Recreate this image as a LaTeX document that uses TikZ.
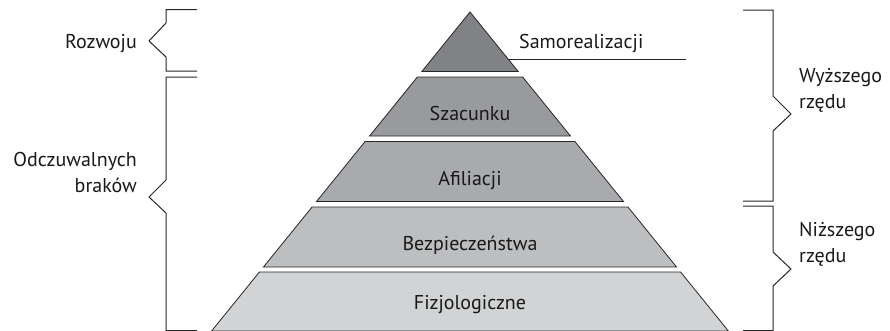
\documentclass[tikz,border=0pt]{standalone}
\usepackage{fontspec}
\setmainfont{PT Sans}
\begin{document}
\begin{tikzpicture}[x=1pt,y=-1pt,
  layer/.style={draw=black!85,line width=0.8pt,line join=miter},
  brace/.style={draw=black!85,line width=1pt},
  lbl/.style={font=\fontsize{20}{25}\selectfont,text=black!90,inner sep=0pt,anchor=base},
  side/.style={font=\fontsize{20}{25.5}\selectfont,text=black!90,inner sep=0pt,align=left}]
\useasboundingbox (0,0) rectangle (890,330);
% pyramid layers: half width grows by 0.81 per unit of depth below the apex
\def\ax{470}\def\ay{12}\def\sl{0.81}
\newcommand{\pyrlayer}[3]{%
  \fill[#3] ({\ax-\sl*(#1-\ay)},#1) -- ({\ax+\sl*(#1-\ay)},#1) --
    ({\ax+\sl*(#2-\ay)},#2) -- ({\ax-\sl*(#2-\ay)},#2) -- cycle;
  \draw[layer] ({\ax-\sl*(#1-\ay)},#1) -- ({\ax+\sl*(#1-\ay)},#1) --
    ({\ax+\sl*(#2-\ay)},#2) -- ({\ax-\sl*(#2-\ay)},#2) -- cycle;}
\definecolor{g1}{HTML}{808285}
\definecolor{g2}{HTML}{999A9D}
\definecolor{g3}{HTML}{A9AAAD}
\definecolor{g4}{HTML}{BCBEC0}
\definecolor{g5}{HTML}{D1D3D4}
\pyrlayer{12}{71.5}{g1}
\pyrlayer{77}{136}{g2}
\pyrlayer{141.5}{201.5}{g3}
\pyrlayer{207}{267}{g4}
\pyrlayer{272}{331}{g5}
\node[lbl] (szac) at (470,120) {Szacunku};
\node[lbl] (afil) at (470,185) {Afiliacji};
\node[lbl] (bezp) at (470,250) {Bezpieczeństwa};
\node[lbl] (fizj) at (470,309) {Fizjologiczne};
% label of the top level with its leader line
\node[lbl,anchor=base west] (samo) at (519,48) {Samorealizacji};
\coordinate (samoA) at ({\ax+\sl*(59-\ay)},59);
\coordinate (samoB) at (686,59);
\draw[brace,line width=0.9pt] (samoA) -- (samoB);
% left braces
\draw[brace] (197,9.5) -- (166,9.5) -- (166,23) -- (149,41) -- (166,57) -- (166,71) -- (197,71);
\draw[brace] (197,77) -- (166,77) -- (166,180) -- (149,197) -- (166,213) -- (166,330.5) -- (197,330.5);
\node[side,anchor=base east] (rozw) at (137,48) {Rozwoju};
\node[side,anchor=base east,align=right] (odcz) at (137,192) {Odczuwalnych\\braków};
% right braces
\draw[brace] (743,10) -- (773,10) -- (773,96) -- (791,114) -- (773,131) -- (773,201) -- (743,201);
\draw[brace] (743,206) -- (773,206) -- (773,252) -- (791,269) -- (773,286) -- (773,330.5) -- (743,330.5);
\node[side,anchor=base west] (wyz) at (799,108) {Wyższego\\rzędu};
\node[side,anchor=base west] (niz) at (799,262) {Niższego\\rzędu};
\end{tikzpicture}
\end{document}
